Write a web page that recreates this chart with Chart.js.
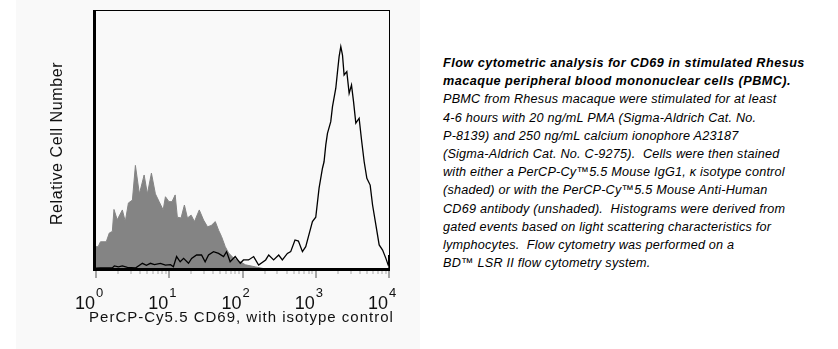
<!DOCTYPE html>
<html>
<head>
<meta charset="utf-8">
<script src="https://cdn.jsdelivr.net/npm/chart.js@4"></script>
<style>
  html, body { margin: 0; padding: 0; background: #ffffff; }
  body { width: 838px; height: 349px; position: relative; overflow: hidden; }
  #panel { position: absolute; left: 16px; top: 0; width: 404px; height: 349px; background: #f9f9f9; }
  #plot { position: absolute; left: 0; top: 0; }
  #caption {
    position: absolute; left: 443px; top: 54px;
    font-family: "Liberation Sans", Arial, sans-serif;
    font-style: italic; font-size: 12.65px; line-height: 18.2px;
    letter-spacing: 0.22px;
    color: #000; white-space: nowrap;
  }
  #caption b { font-weight: bold; letter-spacing: 0.47px; }
</style>
</head>
<body>
<div id="panel"></div>
<canvas id="plot" width="430" height="349"></canvas>
<div id="caption"><b>Flow cytometric analysis for CD69 in stimulated Rhesus<br>macaque peripheral blood mononuclear cells (PBMC).</b><br>PBMC from Rhesus macaque were stimulated for at least<br>4-6 hours with 20 ng/mL PMA (Sigma-Aldrich Cat. No.<br>P-8139) and 250 ng/mL calcium ionophore A23187<br>(Sigma-Aldrich Cat. No. C-9275).&nbsp; Cells were then stained<br>with either a PerCP-Cy™5.5 Mouse IgG1, κ isotype control<br>(shaded) or with the PerCP-Cy™5.5 Mouse Anti-Human<br>CD69 antibody (unshaded).&nbsp; Histograms were derived from<br>gated events based on light scattering characteristics for<br>lymphocytes.&nbsp; Flow cytometry was performed on a<br>BD™ LSR II flow cytometry system.</div>
<script>
// Isotype control (shaded histogram): fluorescence intensity and relative count
const isoIntensity = [1.0, 1.07, 1.15, 1.38, 1.52, 1.67, 1.76, 1.95, 2.29, 2.51,
  2.77, 3.14, 3.45, 3.91, 4.54, 5.03, 5.71, 6.47, 7.28, 8.26,
  8.87, 9.91, 10.9, 12.05, 12.9, 14.5, 16.1, 17.7, 19.9, 22.1,
  25.7, 29.4, 33.3, 37.4, 42.5, 47.1, 51.8, 58.2, 64.6, 75.5,
  93.3, 110, 151, 207];
const isoCount = [8.6, 8.6, 10.5, 10.5, 13.9, 14.5, 23, 19, 22.8, 18.3,
  25.5, 26.6, 40, 29, 36.3, 29, 37, 29, 26, 22.8,
  27.9, 26, 26, 28.6, 20, 19.7, 24.7, 19.7, 20.8, 18.3,
  22.8, 18.9, 16.3, 16.8, 18.3, 15, 12.5, 8.6, 6.2, 4.2,
  2.8, 1.6, 0.8, 0];

// Anti-CD69 stained cells (unshaded histogram)
const cd69Intensity = [1.0, 1.15, 1.67, 1.78, 2.02, 2.29, 2.68, 3.45, 4.3, 4.88,
  5.53, 6.28, 7.57, 8.87, 10.4, 11.4, 12.6, 14.1, 15.7, 18.3,
  20.2, 23.6, 27.6, 30.9, 34.4, 40.2, 47.1, 55.1, 60.6, 67.8,
  79.5, 93.3, 103, 121, 142, 166, 207, 228, 266, 312,
  350, 410, 455, 521, 580, 658, 730, 828, 901, 1000,
  1110, 1235, 1298, 1371, 1445, 1603, 1692, 1878, 1982, 2084,
  2198, 2318, 2438, 2655, 2857, 3077, 3280, 3525, 3910, 4218,
  4581, 4986, 5532, 5966, 6618, 7342, 8174, 9070, 9754, 9900,
  10000];
const cd69Count = [0.3, 0.4, 0.4, 1.2, 0.8, 1.2, 0.6, 0.4, 2.2, 1.4,
  2.2, 1.7, 2.2, 1.5, 1.7, 0.9, 4.8, 2.8, 4.1, 2.2,
  4.1, 5.4, 5.4, 2.8, 5.4, 6.7, 6.0, 4.8, 6.7, 2.8,
  4.8, 2.2, 3.5, 3.5, 4.8, 1.5, 3.5, 5.4, 3.5, 5.4,
  3.5, 6.0, 6.7, 11.2, 10.8, 6.7, 8.6, 14.4, 18.3, 20,
  31.2, 38.9, 41.4, 47.9, 52.4, 56.9, 62.7, 69.8, 76.2, 82,
  85.9, 82.6, 74.9, 76.2, 67.8, 71, 64.6, 56.3, 58.2, 49.8,
  41.4, 35, 32.4, 24.7, 17, 9.3, 7.3, 4.1, 1.5, 5.4,
  0];

// Decade exponents labelled on the x axis (10^0 ... 10^4)
const tickExponents = [0, 1, 2, 3, 4];
const xTitle = 'PerCP-Cy5.5 CD69, with isotype control';
const yTitle = 'Relative Cell Number';

const toPoints = (xs, ys) => xs.map((v, i) => ({ x: v, y: ys[i] }));

const FONT = '"Liberation Sans", Arial, sans-serif';
const INK = '#111';

// Frame, log ticks and axis text in the classic cytometry style
const axisDecor = {
  id: 'axisDecor',
  afterDraw(chart) {
    const { ctx, chartArea: a, scales: { x } } = chart;
    ctx.save();
    ctx.fillStyle = '#000';
    // thin top and right border
    ctx.fillRect(a.left - 3, a.top, a.right - a.left + 4, 1);
    ctx.fillRect(a.right, a.top, 1, a.bottom - a.top + 2);
    // heavy left and bottom axes
    ctx.fillRect(a.left - 3, a.top, 3, a.bottom - a.top + 2);
    ctx.fillRect(a.left - 3, a.bottom - 1, a.right - a.left + 4, 3);

    // decade and minor ticks
    const lo = tickExponents[0], hi = tickExponents[tickExponents.length - 1];
    for (let d = lo; d <= hi; d++) {
      for (let m = 1; m <= 9; m++) {
        if (d === hi && m > 1) break;
        const px = Math.round(x.getPixelForValue(m * Math.pow(10, d)));
        const major = m === 1;
        ctx.fillStyle = major ? '#555' : '#aaa';
        ctx.fillRect(px - 0.5, a.bottom + 2, 1, major ? 7 : 3);
      }
    }

    // 10^n labels
    ctx.fillStyle = INK;
    ctx.textBaseline = 'alphabetic';
    tickExponents.forEach(e => {
      const px = x.getPixelForValue(Math.pow(10, e));
      ctx.font = '18px ' + FONT;
      ctx.textAlign = 'right';
      ctx.fillText('10', px - 1, 309);
      ctx.font = '13px ' + FONT;
      ctx.textAlign = 'left';
      ctx.fillText(String(e), px, 297);
    });

    // axis titles
    ctx.font = '15px ' + FONT;
    ctx.letterSpacing = '1px';
    ctx.textAlign = 'center';
    ctx.fillText(xTitle, (a.left + a.right) / 2 - 1, 322);

    ctx.save();
    ctx.translate(62, (a.top + a.bottom) / 2 + 4);
    ctx.rotate(-Math.PI / 2);
    ctx.font = '16px ' + FONT;
    ctx.letterSpacing = '0.6px';
    ctx.textAlign = 'center';
    ctx.fillText(yTitle, 0, 0);
    ctx.restore();

    ctx.restore();
  }
};

new Chart(document.getElementById('plot'), {
  type: 'line',
  data: {
    datasets: [
      {
        label: 'CD69',
        data: toPoints(cd69Intensity, cd69Count),
        borderColor: '#000',
        borderWidth: 1.3,
        pointRadius: 0,
        fill: false,
        tension: 0,
        order: 0
      },
      {
        label: 'Isotype control',
        data: toPoints(isoIntensity, isoCount),
        borderColor: '#848484',
        borderWidth: 1,
        backgroundColor: '#848484',
        pointRadius: 0,
        fill: 'origin',
        tension: 0,
        order: 1
      }
    ]
  },
  options: {
    responsive: false,
    animation: false,
    layout: { padding: { left: 96, top: 10, right: 41, bottom: 80 } },
    plugins: { legend: { display: false }, tooltip: { enabled: false } },
    scales: {
      x: { type: 'logarithmic', min: 1, max: 10000, display: false },
      y: { type: 'linear', min: 0, max: 100, display: false }
    }
  },
  plugins: [axisDecor]
});
</script>
</body>
</html>
